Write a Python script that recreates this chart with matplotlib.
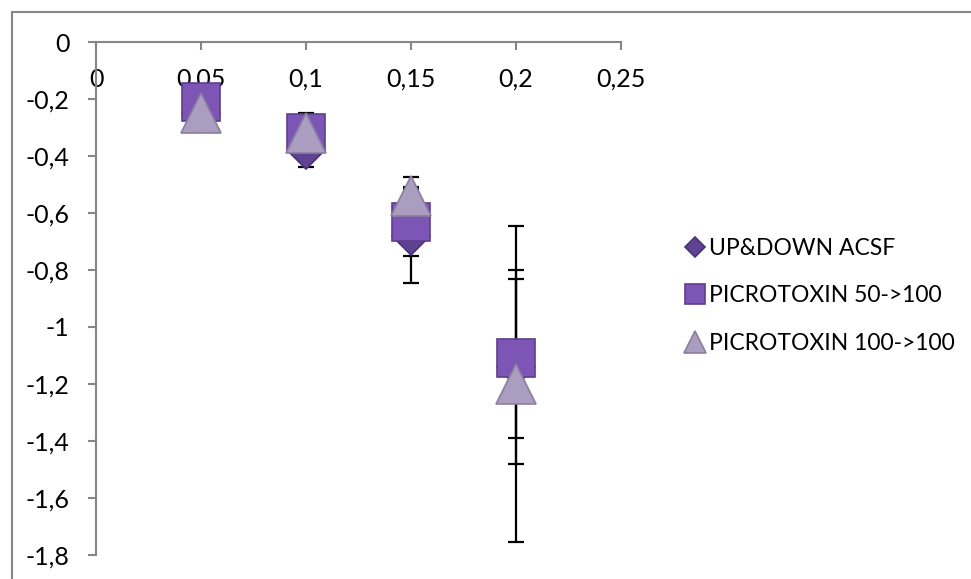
import matplotlib.pyplot as plt
from matplotlib.patches import Rectangle

# concentration steps (x) and response per series, with error half-widths
x = [0.05, 0.1, 0.15, 0.2]
acsf = [-0.25, -0.38, -0.68, -1.14]
acsf_err = [0.03, 0.06, 0.165, 0.34]
pic50 = [-0.21, -0.32, -0.63, -1.11]
pic50_err = [0.03, 0.05, 0.12, 0.28]
pic100 = [-0.25, -0.32, -0.54, -1.20]
pic100_err = [0.03, 0.07, 0.065, 0.555]

labels = ["UP&DOWN ACSF", "PICROTOXIN 50->100", "PICROTOXIN 100->100"]
xticks = [0, 0.05, 0.1, 0.15, 0.2, 0.25]
xticklabels = ["0", "0,05", "0,1", "0,15", "0,2", "0,25"]
yticks = [0, -0.2, -0.4, -0.6, -0.8, -1.0, -1.2, -1.4, -1.6, -1.8]
yticklabels = ["0", "-0,2", "-0,4", "-0,6", "-0,8", "-1", "-1,2", "-1,4", "-1,6", "-1,8"]

plt.rcParams["font.family"] = ["Lato", "DejaVu Sans"]

W, H = 971, 579
fig = plt.figure(figsize=(W / 100, H / 100), dpi=100)
ax = fig.add_axes([96 / W, 1 - 555 / H, (621 - 96) / W, (555 - 42) / H])

grey = "#868686"

# outer chart border (only top and left edges fall inside the picture)
fig.patches.append(Rectangle((12 / W, -0.2), 1.2, 1.2 - 12 / H,
                             transform=fig.transFigure, fill=False,
                             edgecolor=grey, linewidth=1.5, clip_on=False))

series = [
    (acsf, acsf_err, "D", 19, "#5f4392", "#4a3275"),
    (pic50, pic50_err, "s", 27, "#7d55b5", "#5e3d8f"),
    (pic100, pic100_err, "^", 29, "#aa9dc0", "#8a7fa0"),
]
for i, (vals, err, mk, ms, fc, ec) in enumerate(series):
    ax.errorbar(x, vals, yerr=err, fmt="none", ecolor="black",
                elinewidth=1.6, capsize=6, capthick=1.6, zorder=2)
    ax.plot(x, vals, linestyle="none", marker=mk, markersize=ms,
            markerfacecolor=fc, markeredgecolor=ec, markeredgewidth=1.2,
            label=labels[i], zorder=3 + i)

ax.set_xlim(0, 0.25)
ax.set_ylim(-1.8, 0)
for side in ("bottom", "right"):
    ax.spines[side].set_visible(False)
for side in ("left", "top"):
    ax.spines[side].set_color(grey)
    ax.spines[side].set_linewidth(1.5)

ax.set_xticks(xticks)
ax.set_xticklabels(xticklabels)
ax.set_yticks(yticks)
ax.set_yticklabels(yticklabels)
ax.tick_params(axis="x", top=True, bottom=False, labeltop=True, labelbottom=False,
               direction="in", length=6, width=1.5, color=grey, pad=-35,
               labelsize=18)
ax.tick_params(axis="y", direction="out", length=6, width=1.5, color=grey,
               pad=13, labelsize=18)

fig.legend(loc="center left", bbox_to_anchor=(684 / W, 1 - 296 / H),
           frameon=False, fontsize=16.5, markerscale=0.55, handlelength=1.0,
           handletextpad=0.1, labelspacing=1.15, borderpad=0, borderaxespad=0)

fig.savefig("out.png", dpi=100)
